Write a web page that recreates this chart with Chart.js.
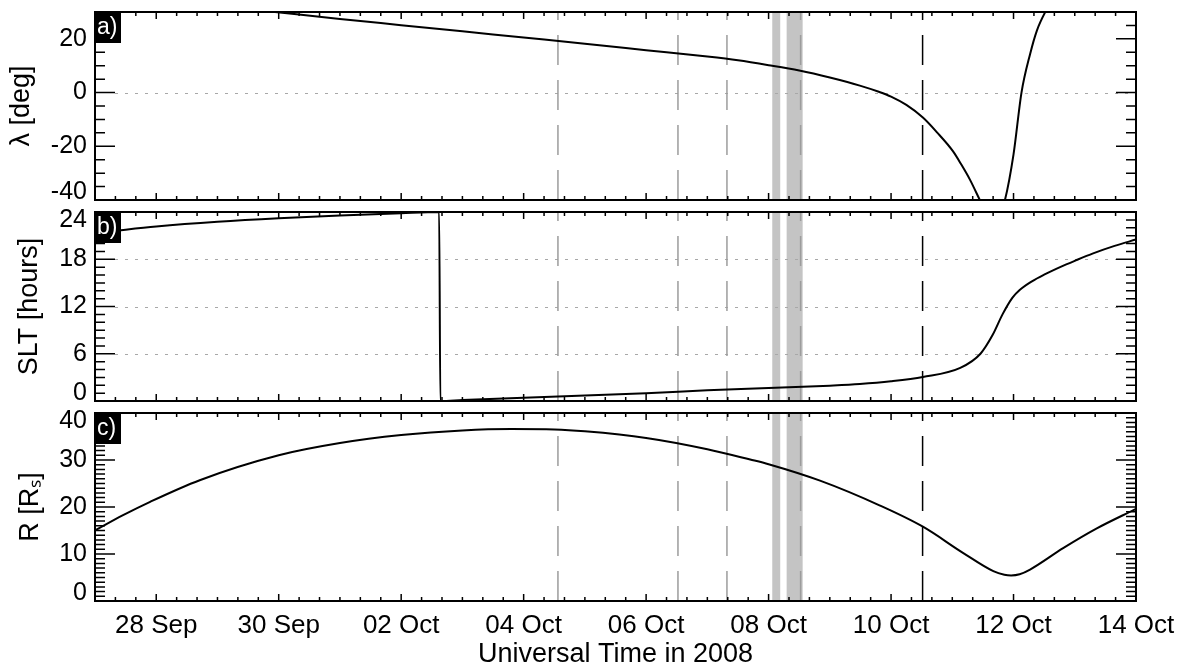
<!DOCTYPE html>
<html><head><meta charset="utf-8">
<script src="https://cdn.jsdelivr.net/npm/chart.js@4/dist/chart.umd.min.js"></script>
<style>
html,body{margin:0;padding:0;background:#fff;}
#wrap{position:relative;width:1182px;height:668px;overflow:hidden;}
.pane{position:absolute;left:0;width:1182px;}
canvas{display:block;}
</style></head><body>
<div id="wrap">
<div class="pane" style="top:0;height:206px"><canvas id="ca" width="1182" height="206"></canvas></div>
<div class="pane" style="top:206px;height:200px"><canvas id="cb" width="1182" height="200"></canvas></div>
<div class="pane" style="top:406px;height:262px"><canvas id="cc" width="1182" height="262"></canvas></div>
</div>
<script>
// ---- data (x = days since 27 Sep 2008 00:00 UT) ----
const xTickDays = [1, 3, 5, 7, 9, 11, 13, 15, 17];
const xTickLabels = ['28 Sep', '30 Sep', '02 Oct', '04 Oct', '06 Oct', '08 Oct', '10 Oct', '12 Oct', '14 Oct'];

const latDays   = [2.94, 4, 5, 6, 7, 8, 9, 10, 10.5, 11, 11.5, 12, 12.49, 12.8, 13.0, 13.25, 13.52, 13.75, 14.01, 14.15, 14.29, 14.46, 14.6, 14.75, 14.86, 15.0, 15.13, 15.27, 15.38, 15.53, 15.65];
const latValues = [30, 27.4, 25.1, 22.8, 20.5, 18.2, 15.8, 13.4, 12.0, 10.2, 8.2, 5.6, 2.6, 0.3, -1.5, -4.6, -9.3, -14.8, -21.8, -26.9, -32.5, -40.5, -47, -47, -40, -23, 0, 14.3, 23, 30.5, 35];

const sltDays   = [0, 0.5, 1, 2, 3, 4, 5, 5.62, 5.64, 6, 7, 8, 9, 10, 11, 12, 12.49, 13, 13.52, 14.13, 14.46, 14.66, 14.82, 14.98, 15.1, 15.3, 15.5, 15.76, 16.0, 16.3, 16.65, 17];
const sltValues = [21.3, 21.75, 22.15, 22.75, 23.2, 23.55, 23.85, 24.0, 0.0, 0.12, 0.42, 0.7, 0.98, 1.35, 1.65, 1.95, 2.15, 2.5, 3.05, 4.2, 6.0, 8.4, 11.0, 13.1, 14.1, 15.2, 16.05, 17.0, 17.8, 18.75, 19.7, 20.5];

const rDays   = [0, 0.45, 0.9, 1.71, 3, 4, 5, 6, 6.8, 7.5, 8, 9, 10, 10.7, 11, 11.84, 12.82, 13.52, 14.18, 14.67, 14.85, 14.96, 15.1, 15.27, 15.81, 16.36, 17];
const rValues = [15.0, 18.2, 21.1, 25.7, 31.0, 33.6, 35.3, 36.3, 36.6, 36.5, 36.1, 34.7, 32.3, 30.1, 29.1, 25.6, 20.3, 15.8, 10.2, 6.35, 5.6, 5.45, 5.7, 6.7, 11.25, 15.45, 19.6];

const bandStart = [11.06, 11.295];
const bandEnd   = [11.19, 11.556];
const grayEventDays  = [7.56, 9.52, 10.32, 11.523];
const blackEventDays = [13.515];

const latTicks = [-40, -20, 0, 20];
const sltTicks = [0, 6, 12, 18, 24];
const rTicks   = [0, 10, 20, 30, 40];

// ---- drawing ----
const FONT = "'Liberation Sans', Arial, Helvetica, sans-serif";

const idlPlugin = {
  id: 'idl',
  beforeDatasetsDraw(chart, args, o) {
    const {ctx, chartArea: a, scales: {x, y}} = chart;
    ctx.save();
    ctx.beginPath(); ctx.rect(a.left, a.top, a.right - a.left, a.bottom - a.top); ctx.clip();
    ctx.fillStyle = '#c4c4c4';
    bandStart.forEach((s, i) => {
      const x0 = x.getPixelForValue(s), x1 = x.getPixelForValue(bandEnd[i]);
      ctx.fillRect(x0, a.top, x1 - x0, a.bottom - a.top);
    });
    ctx.strokeStyle = '#a8a8a8'; ctx.lineWidth = 1; ctx.setLineDash([3, 7]);
    o.grid.forEach(v => {
      const py = Math.round(y.getPixelForValue(v)) + 0.5;
      ctx.beginPath(); ctx.moveTo(a.left + 20, py); ctx.lineTo(a.right, py); ctx.stroke();
    });
    ctx.setLineDash([30, 15]); ctx.lineWidth = 1.5;
    const vline = (d, c) => {
      const px = x.getPixelForValue(d);
      ctx.strokeStyle = c; ctx.beginPath(); ctx.moveTo(px, a.bottom); ctx.lineTo(px, a.top); ctx.stroke();
    };
    grayEventDays.forEach(d => vline(d, '#9c9c9c'));
    blackEventDays.forEach(d => vline(d, '#000'));
    ctx.restore();
  },
  afterDatasetsDraw(chart, args, o) {
    const {ctx, chartArea: a, scales: {x, y}} = chart;
    ctx.save();
    ctx.setLineDash([]);
    ctx.strokeStyle = '#000'; ctx.lineWidth = 1.5;
    // y ticks (inward, both sides)
    const n = Math.round((o.yMax - o.yMin) / o.yMinor);
    for (let k = 0; k <= n; k++) {
      const v = o.yMin + k * o.yMinor;
      const r = v / o.yMajor;
      const major = Math.abs(r - Math.round(r)) < 1e-6;
      const len = major ? 20 : 10;
      const py = y.getPixelForValue(v);
      ctx.beginPath();
      ctx.moveTo(a.left, py); ctx.lineTo(a.left + len, py);
      ctx.moveTo(a.right, py); ctx.lineTo(a.right - len, py);
      ctx.stroke();
    }
    // x ticks (inward, top and bottom), minor every 8 h
    for (let k = 0; k <= 51; k++) {
      const d = k / 3;
      const major = (k % 6) === 3;
      const len = major ? 7 : 4;
      const px = x.getPixelForValue(d);
      ctx.beginPath();
      ctx.moveTo(px, a.bottom); ctx.lineTo(px, a.bottom - len);
      ctx.moveTo(px, a.top); ctx.lineTo(px, a.top + len);
      ctx.stroke();
    }
    // frame
    ctx.lineWidth = 2;
    ctx.strokeRect(a.left, a.top, a.right - a.left, a.bottom - a.top);
    // panel tag
    ctx.fillStyle = '#000';
    ctx.fillRect(a.left, a.top, 26, 31);
    ctx.fillStyle = '#fff';
    ctx.font = '23px ' + FONT;
    ctx.textBaseline = 'middle';
    ctx.textAlign = 'left';
    ctx.fillText(o.tag, a.left + 2, a.top + 16);
    ctx.restore();
  }
};

function zeroPad(s) { s.paddingTop = 0; s.paddingBottom = 0; s.paddingLeft = 0; s.paddingRight = 0; }

function panel(id, p) {
  return new Chart(document.getElementById(id), {
    type: 'line',
    data: {
      datasets: [{
        data: p.days.map((d, i) => ({x: d, y: p.vals[i]})),
        borderColor: '#000', borderWidth: 2, pointRadius: 0,
        cubicInterpolationMode: 'monotone', fill: false
      }]
    },
    options: {
      responsive: false, animation: false, events: [],
      layout: {padding: {left: 0, right: 46, top: p.padTop, bottom: p.padBottom}},
      plugins: {
        legend: {display: false}, tooltip: {enabled: false},
        idl: {tag: p.tag, grid: p.grid, yMin: p.min, yMax: p.max, yMinor: p.minor, yMajor: p.major}
      },
      scales: {
        x: {
          type: 'linear', min: 0, max: 17, display: p.showX,
          grid: {display: false, drawTicks: false}, border: {display: false},
          afterBuildTicks: s => { s.ticks = xTickDays.map(v => ({value: v})); },
          afterFit: s => { zeroPad(s); if (p.showX) s.height = 67; },
          ticks: {
            autoSkip: false, maxRotation: 0, padding: 10, color: '#000',
            font: {family: FONT, size: 26, lineHeight: '30px'},
            callback: (v, i) => xTickLabels[i]
          },
          title: {display: p.showX, text: 'Universal Time in 2008', color: '#000',
                  font: {family: FONT, size: 27, lineHeight: 1}, padding: {top: 0, bottom: 0}}
        },
        y: {
          type: 'linear', min: p.min, max: p.max,
          grid: {display: false, drawTicks: false}, border: {display: false},
          afterBuildTicks: s => { s.ticks = p.ticks.map(v => ({value: v})); },
          afterFit: s => { zeroPad(s); s.width = 95; },
          ticks: {
            padding: 8, color: '#000',
            font: {family: FONT, size: 25, lineHeight: '16px'},
            callback: v => v === p.max ? ['', String(v)] : (v === p.min ? [String(v), ''] : String(v))
          },
          title: {display: true, text: p.title, color: '#000',
                  font: {family: FONT, size: 27, lineHeight: 1}, padding: {top: p.titlePad, bottom: 0}}
        }
      }
    },
    plugins: [idlPlugin]
  });
}

panel('ca', {days: latDays, vals: latValues, min: -40, max: 30, ticks: latTicks, minor: 5, major: 20,
  grid: [0], tag: 'a)', title: 'λ [deg]', titlePad: 8.5, padTop: 12, padBottom: 6, showX: false});
panel('cb', {days: sltDays, vals: sltValues, min: 0, max: 24, ticks: sltTicks, minor: 1, major: 6,
  grid: [6, 12, 18], tag: 'b)', title: 'SLT [hours]', titlePad: 16.5, padTop: 6, padBottom: 5, showX: false});
panel('cc', {days: rDays, vals: rValues, min: 0, max: 40, ticks: rTicks, minor: 1, major: 10,
  grid: [], tag: 'c)', title: 'R [Rₛ]', titlePad: 17.5, padTop: 7, padBottom: 0, showX: true});
</script>
</body></html>
